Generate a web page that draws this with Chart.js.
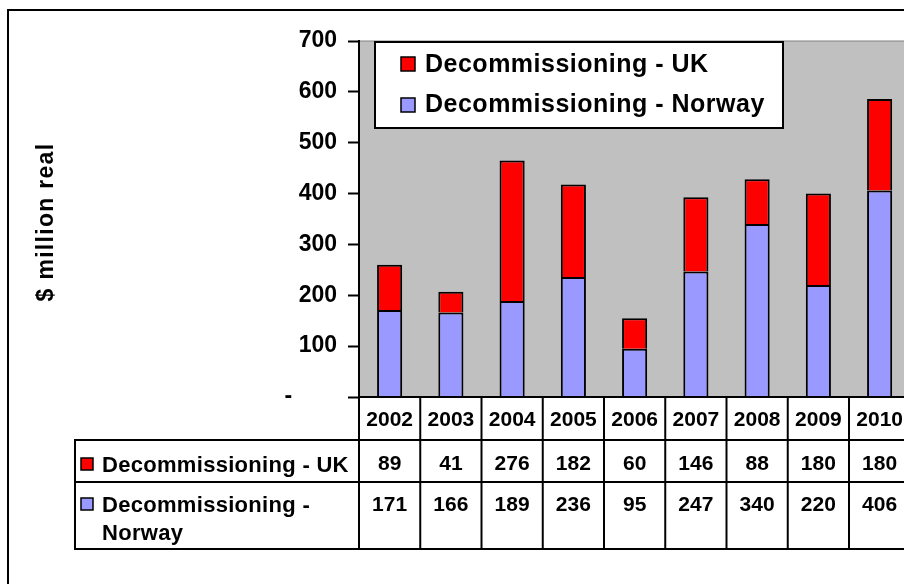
<!DOCTYPE html>
<html><head><meta charset="utf-8">
<script src="https://cdn.jsdelivr.net/npm/chart.js@4/dist/chart.umd.min.js"></script>
<style>
html,body{margin:0;padding:0;width:904px;height:584px;overflow:hidden;background:#fff}
#wrap{position:absolute;left:0;top:0;width:920px;height:600px}
</style></head><body>
<div id="wrap"><canvas id="c" width="920" height="600"></canvas></div>
<script>
const years = ['2002','2003','2004','2005','2006','2007','2008','2009','2010'];
const ukValues = [89,41,276,182,60,146,88,180,180];
const norwayValues = [171,166,189,236,95,247,340,220,406];
const yTicks = [0,100,200,300,400,500,600,700];
const ukLabel = 'Decommissioning - UK';
const norwayLabel = 'Decommissioning - Norway';
const norwayTableLines = ['Decommissioning -','Norway'];
const yTitle = '$ million real';

const UK_COLOR = '#FF0000', NO_COLOR = '#9999FF';
const FONT = '"Liberation Sans", Arial, Helvetica, sans-serif';

function txt(ctx, s, x, y, size, align, spacing) {
  ctx.save();
  ctx.font = 'bold ' + size + 'px ' + FONT;
  ctx.fillStyle = '#000';
  ctx.textAlign = align || 'left';
  ctx.textBaseline = 'alphabetic';
  if (spacing) { try { ctx.letterSpacing = spacing + 'px'; } catch (e) {} }
  ctx.fillText(s, x, y);
  ctx.restore();
}
function keyBox(ctx, x, y, s, color) {
  ctx.save();
  ctx.fillStyle = color;
  ctx.fillRect(x, y, s, s);
  ctx.strokeStyle = '#000';
  ctx.lineWidth = 1.5;
  ctx.strokeRect(x, y, s, s);
  ctx.restore();
}
function line(ctx, x1, y1, x2, y2, w, c) {
  ctx.save();
  ctx.strokeStyle = c || '#000';
  ctx.lineWidth = w || 2;
  ctx.beginPath(); ctx.moveTo(x1, y1); ctx.lineTo(x2, y2); ctx.stroke();
  ctx.restore();
}

const decor = {
  id: 'decor',
  beforeDraw(chart) {
    const {ctx, chartArea: a} = chart;
    ctx.save();
    ctx.fillStyle = '#C0C0C0';
    ctx.fillRect(a.left, a.top, a.right - a.left, a.bottom - a.top);
    ctx.restore();
    line(ctx, a.left, a.top, a.right, a.top, 1, '#808080');
  },
  afterDraw(chart) {
    const {ctx, chartArea: a} = chart;
    const xs = chart.scales.x;
    const n = years.length;
    const colW = (a.right - a.left) / n;
    const T0 = a.bottom, T1 = 440, T2 = 482, T3 = 549, L = 75;
    // outer frame
    ctx.save(); ctx.strokeStyle = '#000'; ctx.lineWidth = 2;
    ctx.strokeRect(8, 10, 1000, 1000); ctx.restore();
    // table lines
    line(ctx, a.left - 1, T0, a.right + 5, T0);
    line(ctx, L - 1, T1, a.right + 5, T1);
    line(ctx, L - 1, T2, a.right + 5, T2);
    line(ctx, L - 1, T3, a.right + 5, T3);
    line(ctx, L, T1, L, T3);
    for (let i = 0; i <= n; i++) {
      const bx = (i < n ? xs.getPixelForValue(i) : xs.getPixelForValue(n - 1) + colW) - colW / 2;
      line(ctx, bx, T0, bx, T3);
    }
    for (let i = 0; i < n; i++) {
      const cx = xs.getPixelForValue(i);
      txt(ctx, years[i], cx, 426, 21, 'center');
      txt(ctx, String(ukValues[i]), cx, 470, 21, 'center');
      txt(ctx, String(norwayValues[i]), cx, 511, 21, 'center');
    }
    keyBox(ctx, 81, 458, 12, UK_COLOR);
    txt(ctx, ukLabel, 102, 472, 22, 'left', 0.3);
    keyBox(ctx, 81, 498, 12, NO_COLOR);
    txt(ctx, norwayTableLines[0], 102, 512, 22, 'left', 0.3);
    txt(ctx, norwayTableLines[1], 102, 540, 22, 'left', 0.3);
    // legend box
    ctx.save();
    ctx.fillStyle = '#fff'; ctx.fillRect(375, 42, 408, 86);
    ctx.strokeStyle = '#000'; ctx.lineWidth = 2; ctx.strokeRect(375, 42, 408, 86);
    ctx.restore();
    keyBox(ctx, 401, 57, 14, UK_COLOR);
    txt(ctx, ukLabel, 425, 72, 25, 'left', 0.5);
    keyBox(ctx, 401, 98, 14, NO_COLOR);
    txt(ctx, norwayLabel, 425, 112, 25, 'left', 0.5);
    // y title
    ctx.save();
    ctx.translate(53, (a.top + a.bottom) / 2 + 3);
    ctx.rotate(-Math.PI / 2);
    txt(ctx, yTitle, 0, 0, 23, 'center', 1.3);
    ctx.restore();
  }
};

new Chart(document.getElementById('c'), {
  type: 'bar',
  data: {
    labels: years,
    datasets: [
      {label: norwayLabel, data: norwayValues, backgroundColor: NO_COLOR, borderColor: '#000', borderWidth: 2, borderSkipped: 'bottom', barPercentage: 0.41, categoryPercentage: 1},
      {label: ukLabel, data: ukValues, backgroundColor: UK_COLOR, borderColor: '#000', borderWidth: 2, borderSkipped: 'bottom', barPercentage: 0.41, categoryPercentage: 1}
    ]
  },
  options: {
    responsive: false,
    animation: false,
    devicePixelRatio: 1,
    layout: {padding: {left: 0, top: 41, right: 9.75, bottom: 203}},
    plugins: {legend: {display: false}, tooltip: {enabled: false}},
    scales: {
      x: {stacked: true, display: false, offset: true, grid: {display: false}},
      y: {
        stacked: true, min: 0, max: 700,
        afterFit(s) { s.width = 359; },
        afterBuildTicks(s) { s.ticks = yTicks.map(v => ({value: v})); },
        ticks: {
          font: {family: FONT, size: 23, weight: 'bold'}, color: '#000', padding: 11,
          callback: v => v === 0 ? '-\u2007\u2007\u2007 ' : String(v)
        },
        grid: {drawOnChartArea: false, drawTicks: true, tickLength: 11, tickWidth: 2, tickColor: '#000', color: '#000'},
        border: {display: true, color: '#000', width: 2}
      }
    }
  },
  plugins: [decor]
});
</script>
</body></html>
